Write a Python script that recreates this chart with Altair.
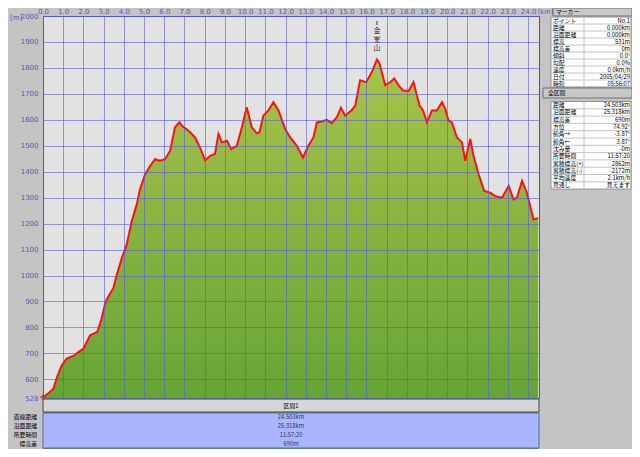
import altair as alt
import pandas as pd

# ---- profile data (distance km, elevation m) ----
km = [0, 0.25, 0.51, 0.7, 0.93, 1.17, 1.5, 1.75, 2.0, 2.33, 2.69, 2.9, 3.1, 3.32, 3.48,
      3.65, 3.9, 4.14, 4.39, 4.64, 4.8, 5.05, 5.3, 5.54, 5.79, 6.04, 6.29, 6.53, 6.75,
      6.92, 7.08, 7.28, 7.52, 7.77, 8.02, 8.27, 8.51, 8.68, 8.85, 9.1, 9.31, 9.59, 9.84,
      10.08, 10.33, 10.58, 10.71, 10.9, 11.15, 11.4, 11.65, 11.98, 12.23, 12.56, 12.86,
      13.13, 13.38, 13.55, 13.8, 14.04, 14.29, 14.54, 14.74, 14.95, 15.28, 15.45, 15.69,
      15.99, 16.27, 16.52, 16.65, 16.93, 17.18, 17.38, 17.59, 17.81, 18.09, 18.33, 18.63,
      18.8, 19.0, 19.24, 19.49, 19.74, 19.9, 20.06, 20.23, 20.48, 20.73, 20.89, 21.14,
      21.3, 21.55, 21.83, 22.13, 22.38, 22.71, 23.04, 23.28, 23.45, 23.7, 23.94, 24.27,
      24.5]
elev = [531, 545, 563, 610, 654, 680, 690, 705, 718, 770, 783, 834, 900, 931, 951,
        1003, 1067, 1119, 1209, 1274, 1332, 1390, 1422, 1448, 1442, 1448, 1481, 1571, 1590,
        1574, 1565, 1552, 1532, 1493, 1444, 1461, 1468, 1545, 1513, 1519, 1487, 1500, 1571,
        1648, 1571, 1548, 1552, 1616, 1636, 1668, 1636, 1565, 1532, 1500, 1455,
        1500, 1532, 1590, 1594, 1600, 1587, 1610, 1646, 1616, 1638, 1655, 1752,
        1745, 1784, 1832, 1817, 1733, 1745, 1759, 1733, 1713, 1711, 1745, 1655,
        1636, 1590, 1636, 1636, 1668, 1642, 1597, 1590, 1532, 1513, 1442, 1526,
        1461, 1390, 1326, 1319, 1306, 1300, 1345, 1293, 1300, 1364, 1319, 1216,
        1221]

x_ticks = list(range(0, 25))
y_ticks = [528] + list(range(600, 2001, 100))

peak_name = "金\n峯\n山"
peak_km = [16.52]

marker_labels = ["ポイント", "距離", "沿面距離", "標高", "標高差", "傾斜", "勾配", "速度", "日付", "時刻"]
marker_values = ["No.1", "0.000km", "0.000km", "531m", "0m", "0.0°", "0.0%", "0.0km/h", "2005/04/29", "05:56:07"]

total_labels = ["距離", "沿面距離", "標高差", "方位", "俯角→", "俯角←", "沈み量", "所要時間",
                "累積標高(+)", "累積標高(-)", "平均速度", "見通し"]
total_values = ["24.503km", "25.318km", "690m", "74.92°", "-3.87°", "3.87°", "-0m", "11:57:20",
                "2862m", "-2172m", "2.1km/h", "見えます"]

section_labels = ["直線距離", "沿面距離", "所要時間", "標高差"]
section_values = ["24.503km", "25.318km", "11:57:20", "690m"]

df = pd.DataFrame({"km": km, "elev": elev})

W, H = 496, 382
JP = "Noto Sans CJK JP"
FS = 5.8

xs = alt.Scale(domain=[0, 24.54], nice=False, zero=False)
ys = alt.Scale(domain=[528, 2000], nice=False, zero=False)

x_axis = alt.Axis(orient="top", values=x_ticks, format=".1f", grid=True,
                  ticks=False, domain=False, labelPadding=2, zindex=1,
                  labelOverlap=False, labelFlush=False, labelSeparation=0, title=None)
y_axis = alt.Axis(values=y_ticks, format="d", grid=True, ticks=False, domain=False,
                  labelPadding=5, zindex=1, labelOverlap=False, labelFlush=False,
                  labelSeparation=0, title=None)

X = alt.X("km:Q", scale=xs, axis=x_axis)
Y = alt.Y("elev:Q", scale=ys, axis=y_axis)

grad = alt.Gradient(
    gradient="linear",
    stops=[alt.GradientStop(color="#a8c34a", offset=0),
           alt.GradientStop(color="#4a982d", offset=1)],
    x1=1, x2=1, y1=0, y2=1,
)

area = alt.Chart(df).mark_area(color=grad).encode(x=X, y=Y)
line = alt.Chart(df).mark_line(color="#ff1010", strokeWidth=2).encode(x=X, y=Y)

start_pt = alt.Chart(df.head(1)).mark_point(shape="cross", color="#cc2020", size=30,
                                            filled=True).encode(x=X, y=Y)

peak_df = pd.DataFrame({"km": peak_km, "name": [peak_name]})
peak = alt.Chart(peak_df).mark_text(lineBreak="\n", baseline="top", font=JP, fontSize=7,
                                    lineHeight=8.5, color="#303030").encode(
    x=X, y=alt.value(11), text="name:N")
peak_tick = alt.Chart(peak_df).mark_rule(color="#404040", strokeWidth=1).encode(
    x=X, y=alt.value(5), y2=alt.value(9))

one = pd.DataFrame({"a": [0]})
OX, OY = 43, 16  # page position of plot origin


def rect(x0, y0, x1, y1, fill, stroke=None, sw=1):
    kw = dict(fill=fill)
    if stroke:
        kw.update(stroke=stroke, strokeWidth=sw)
    return alt.Chart(one).mark_rect(**kw).encode(
        x=alt.value(x0 - OX), x2=alt.value(x1 - OX),
        y=alt.value(y0 - OY), y2=alt.value(y1 - OY))


def hline(x0, x1, y, color):
    return alt.Chart(one).mark_rule(color=color, strokeWidth=1).encode(
        x=alt.value(x0 - OX), x2=alt.value(x1 - OX), y=alt.value(y - OY))


def vline(x, y0, y1, color):
    return alt.Chart(one).mark_rule(color=color, strokeWidth=1).encode(
        x=alt.value(x - OX), y=alt.value(y0 - OY), y2=alt.value(y1 - OY))


def txt(s, x, y, align="left", size=FS, color="#000000", font=JP):
    return alt.Chart(one).mark_text(text=s, align=align, baseline="middle", fontSize=size,
                                    font=font, color=color).encode(
        x=alt.value(x - OX), y=alt.value(y - OY))


deco = []
# right panel (page x up to 632)
L0, L1 = 551, 631     # table left/right
LX, VX, DIV = 553, 630, 584

deco.append(rect(553, 8, 632, 16, "#c8c8c8", "#707070"))
deco.append(txt("マーカー", 556, 12))
top0, step = 17, 7.0
deco.append(rect(L0, top0, L1, top0 + step * len(marker_labels), "#ffffff", "#909090"))
for i in range(1, len(marker_labels)):
    deco.append(hline(L0, L1, top0 + step * i, "#c4c4c4"))
deco.append(vline(DIV, top0, top0 + step * len(marker_labels), "#c4c4c4"))
for i, (l, v) in enumerate(zip(marker_labels, marker_values)):
    yc = top0 + step * i + step / 2
    deco.append(txt(l, LX, yc))
    deco.append(txt(v, VX, yc, align="right"))

deco.append(rect(543, 88, 632, 98, "#c8c8c8", "#707070"))
deco.append(txt("全区間", 548, 93))
top1, step1 = 101.5, 7.3
deco.append(rect(L0, top1, L1, top1 + step1 * len(total_labels), "#ffffff", "#909090"))
for i in range(1, len(total_labels)):
    deco.append(hline(L0, L1, top1 + step1 * i, "#c4c4c4"))
deco.append(vline(DIV, top1, top1 + step1 * len(total_labels), "#c4c4c4"))
for i, (l, v) in enumerate(zip(total_labels, total_values)):
    yc = top1 + step1 * i + step1 / 2
    deco.append(txt(l, LX, yc))
    deco.append(txt(v, VX, yc, align="right"))

# axis unit labels
deco.append(txt("[m]", 10, 18, size=7, color="#5858b8", font="DejaVu Sans"))
deco.append(txt("[km]", 538, 12, size=6.5, color="#5858b8", font="DejaVu Sans"))

# bottom panel
deco.append(rect(43, 399, 539, 412, "#d6d6d6", "#404040"))
deco.append(txt("区間1", 291, 405.5, align="center"))
deco.append(rect(43, 413, 539, 448, "#a9b6ff", "#5a6a9a"))
for i, (l, v) in enumerate(zip(section_labels, section_values)):
    yc = 416.5 + 9 * i
    deco.append(txt(l, 37, yc, align="right"))
    deco.append(txt(v, 291, yc, align="center", color="#303060"))

chart = alt.layer(area, line, start_pt, peak_tick, peak, *deco).properties(
    width=W, height=H,
    autosize=alt.AutoSizeParams(type="none"),
    padding={"left": 35, "top": 8, "right": 93, "bottom": 51},
    background="#c4c4c4",
).configure_view(
    fill="#e2e2e2", stroke="#4a4ad0", strokeWidth=1
).configure_axis(
    gridColor="#5a5ad8", gridOpacity=0.6, gridWidth=1,
    labelColor="#5858b8", labelFont="DejaVu Sans", labelFontSize=7,
    labelOverlap=False,
)

chart.save("out.html", embed_options={"renderer": "svg", "actions": False})
